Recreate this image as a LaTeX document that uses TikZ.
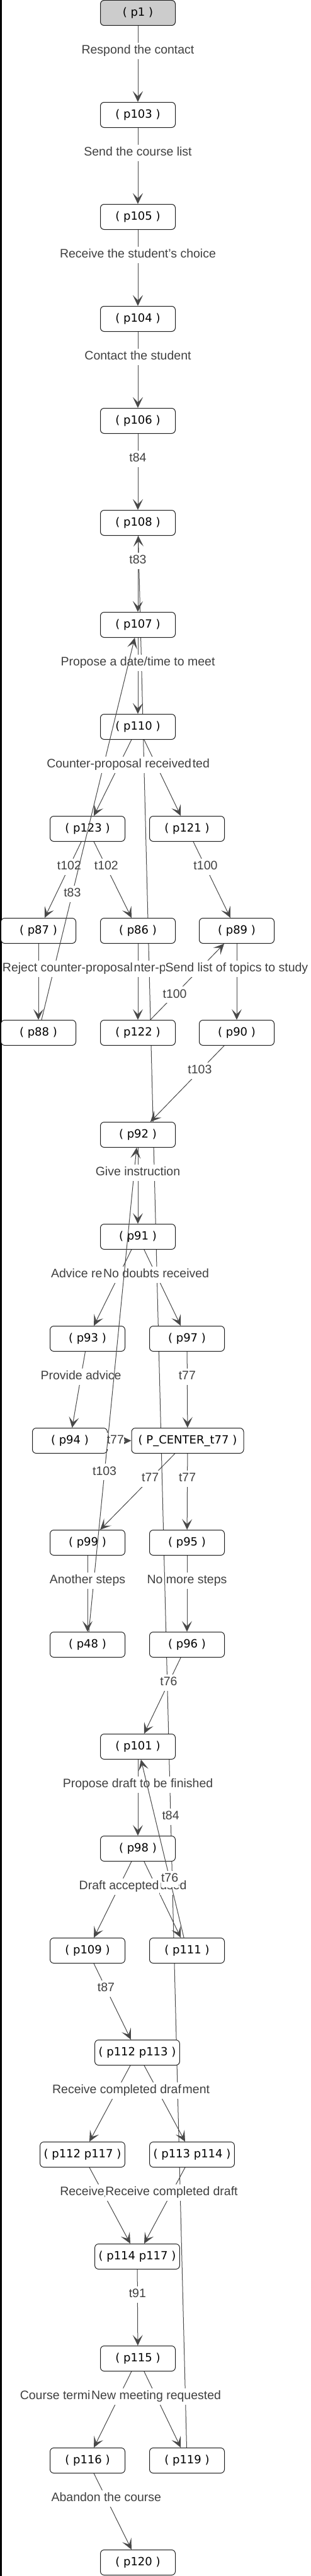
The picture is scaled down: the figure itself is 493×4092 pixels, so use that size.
\documentclass[tikz,border=0pt]{standalone}
\usepackage{fontspec}
\setmainfont{Liberation Sans}
\newfontfamily\placefont{DejaVu Sans}
\usetikzlibrary{arrows.meta,positioning,backgrounds}

\begin{document}
\begin{tikzpicture}[x=1pt, y=-1pt,
		place/.style={draw=placeborder, line width=1pt, fill=white, rounded corners=6pt, minimum width=119pt, minimum height=40pt, inner xsep=6pt, text=black, font=\placefont\fontsize{18}{20}\selectfont},
		start/.style={place, fill=startgray},
		arc/.style={draw=arcgray, line width=1pt, -{Stealth[length=17pt, width=16pt, inset=8pt]}},
		lbl/.style={fill=white, text=labelgray, inner xsep=0.5pt, inner ysep=4pt, text height=14pt, text depth=4pt, font=\fontsize{19.5}{22}\selectfont}]
		% Colours of the reachability graph
		\definecolor{placeborder}{RGB}{30, 30, 30}
		\definecolor{startgray}{RGB}{204, 204, 204}
		\definecolor{arcgray}{RGB}{72, 72, 72}
		\definecolor{labelgray}{RGB}{64, 64, 64}
		
		% --- Canvas ---
		\begin{scope}[on background layer]
			\fill[white] (0,0) rectangle (493,4092);
			\fill[black] (0,0) rectangle (2.7,4092);
		\end{scope}
		\useasboundingbox (0,0) rectangle (493,4092);
		
		% --- Places ---
		% one row every 162px
		\node[start] (p1) at (219,20.5) {( p1 )};
		\node[place] (p103) at (219,182.5) {( p103 )};
		\node[place] (p105) at (219,344.5) {( p105 )};
		\node[place] (p104) at (219,506.5) {( p104 )};
		\node[place] (p106) at (219,668.5) {( p106 )};
		\node[place] (p108) at (219,830.5) {( p108 )};
		\node[place] (p107) at (219,992.5) {( p107 )};
		\node[place] (p110) at (219,1154.5) {( p110 )};
		\node[place] (p123) at (139,1316.5) {( p123 )};
		\node[place] (p121) at (297,1316.5) {( p121 )};
		\node[place] (p87) at (61,1478.5) {( p87 )};
		\node[place] (p86) at (219,1478.5) {( p86 )};
		\node[place] (p89) at (376,1478.5) {( p89 )};
		\node[place] (p88) at (61,1640.5) {( p88 )};
		\node[place] (p122) at (219,1640.5) {( p122 )};
		\node[place] (p90) at (376,1640.5) {( p90 )};
		\node[place] (p92) at (219,1802.5) {( p92 )};
		\node[place] (p91) at (219,1964.5) {( p91 )};
		\node[place] (p93) at (139,2126.5) {( p93 )};
		\node[place] (p97) at (297,2126.5) {( p97 )};
		\node[place] (p94) at (111,2288.5) {( p94 )};
		\node[place, minimum width=178pt] (pc77) at (298,2288.5) {( P\_CENTER\_t77 )};
		\node[place] (p99) at (139,2450.5) {( p99 )};
		\node[place] (p95) at (297,2450.5) {( p95 )};
		\node[place] (p48) at (139,2612.5) {( p48 )};
		\node[place] (p96) at (297,2612.5) {( p96 )};
		\node[place] (p101) at (219,2774.5) {( p101 )};
		\node[place] (p98) at (219,2936.5) {( p98 )};
		\node[place] (p109) at (139,3098.5) {( p109 )};
		\node[place] (p111) at (297,3098.5) {( p111 )};
		\node[place] (p112p113) at (218,3260.5) {( p112 p113 )};
		\node[place] (p112p117) at (131,3422.5) {( p112 p117 )};
		\node[place] (p113p114) at (305,3422.5) {( p113 p114 )};
		\node[place] (p114p117) at (218,3584.5) {( p114 p117 )};
		\node[place] (p115) at (219,3746.5) {( p115 )};
		\node[place] (p116) at (139,3908.5) {( p116 )};
		\node[place] (p119) at (297,3908.5) {( p119 )};
		\node[place] (p120) at (219,4070.5) {( p120 )};
		
		% --- Arcs ---
		% labels sit a third of the way along each arc
		\draw[arc] (p1) -- (p103) node[lbl, pos=.33] (l1) {Respond the contact};
		\draw[arc] (p103) -- (p105) node[lbl, pos=.33] (l2) {Send the course list};
		\draw[arc] (p105) -- (p104) node[lbl, pos=.33] (l3) {Receive the student's choice};
		\draw[arc] (p104) -- (p106) node[lbl, pos=.33] (l4) {Contact the student};
		\draw[arc] (p106) -- (p108) node[lbl, pos=.33] (l5) {t84};
		\draw[arc] (p108) -- (p107) node[lbl, pos=.33] (l6) {t83};
		\draw[arc] (p107) -- (p110) node[lbl, pos=.33] (l7) {Propose a date/time to meet};
		\draw[arc] (p123) -- (p87) node[lbl, pos=.33] (l8) {t102};
		\draw[arc] (p123) -- (p86) node[lbl, pos=.33] (l9) {t102};
		\draw[arc] (p88) -- (p107) node[lbl, pos=.33] (l10) {t83};
		
		\draw[arc] (p110) -- (p121);
		\draw[arc] (p110) -- (p123) node[lbl, pos=.33] (lCounter) {Counter-proposal received};
		\node[lbl, right=0pt of lCounter] (lCounterTail) {ted};
		\draw[arc] (p121) -- (p89) node[lbl, pos=.33] (l11) {t100};
		
		\draw[arc] (p87) -- (p88) node[lbl, pos=.33, xshift=46.5] (lReject) {Reject counter-proposal};
		\draw[arc] (p86) -- (p122);
		\node[lbl, right=0pt of lReject] (lAccept) {nter-p};
		\draw[arc] (p122) -- (p89) node[lbl, pos=.33] (l12) {t100};
		\draw[arc] (p89) -- (p90) node[lbl, pos=.33] (lSend) {Send list of topics to study};
		\draw[arc] (p90) -- (p92) node[lbl, pos=.33] (l13) {t103};
		
		\draw[arc] (p91) -- (p93);
		\draw[arc] (p91) -- (p97) node[lbl, pos=.33] (lNoDoubts) {No doubts received};
		\node[lbl, left=0pt of lNoDoubts] (lAdvice) {Advice re};
		\draw[arc] (p93) -- (p94) node[lbl, pos=.33] (l14) {Provide advice};
		\draw[arc] (p97) -- (pc77) node[lbl, pos=.33] (l15) {t77};
		\draw[arc] (p94) -- (pc77) node[lbl, pos=.33] (l16) {t77};
		\draw[arc] (p48) -- (p92) node[lbl, pos=.33] (l17) {t103};
		\draw[arc] (p92) -- (p91) node[lbl, pos=.33] (l18) {Give instruction};
		\draw[arc] (pc77) -- (p99) node[lbl, pos=.33] (l19) {t77};
		\draw[arc] (pc77) -- (p95) node[lbl, pos=.33] (l20) {t77};
		\draw[arc] (p99) -- (p48) node[lbl, pos=.33] (l21) {Another steps};
		\draw[arc] (p96) -- (p101) node[lbl, pos=.33] (l22) {t76};
		\draw[arc] (p101) -- (p98) node[lbl, pos=.33] (l23) {Propose draft to be finished};
		
		\draw[arc] (p98) -- (p111);
		\draw[arc] (p98) -- (p109) node[lbl, pos=.33] (lAccepted) {Draft accepted};
		\node[lbl, right=0pt of lAccepted] (lRefused) {used};
		\draw[arc] (p111) -- (p101) node[lbl, pos=.33] (l24) {t76};
		\draw[arc] (p109) -- (p112p113) node[lbl, pos=.33] (l25) {t87};
		
		\draw[arc] (p112p113) -- (p113p114);
		\draw[arc] (p112p113) -- (p112p117) node[lbl, pos=.33] (lDraf) {Receive completed draf};
		\node[lbl, right=0pt of lDraf] (lPay) {ment};
		\draw[arc] (p112p117) -- (p114p117);
		\draw[arc] (p113p114) -- (p114p117) node[lbl, pos=.33] (lRecv) {Receive completed draft};
		\node[lbl, left=0pt of lRecv] (lRecvA) {Receive};
		\draw[arc] (p114p117) -- (p115) node[lbl, pos=.33] (l26) {t91};
		
		\draw[arc] (p115) -- (p116);
		\draw[arc] (p115) -- (p119) node[lbl, pos=.33] (lNewMeet) {New meeting requested};
		\node[lbl, left=0pt of lNewMeet] (lTerm) {Course termi};
		\draw[arc] (p116) -- (p120) node[lbl, pos=.33] (l27) {Abandon the course};
		
		% --- Arcs running under the places ---
		\begin{scope}[on background layer]
			\draw[arc] (p95) -- (p96) node[lbl, pos=.33] (l28) {No more steps};
			\draw[arc] (p119) -- (p108) node[lbl, pos=.33] (l29) {t84};
		\end{scope}
		
	\end{tikzpicture}
\end{document}
